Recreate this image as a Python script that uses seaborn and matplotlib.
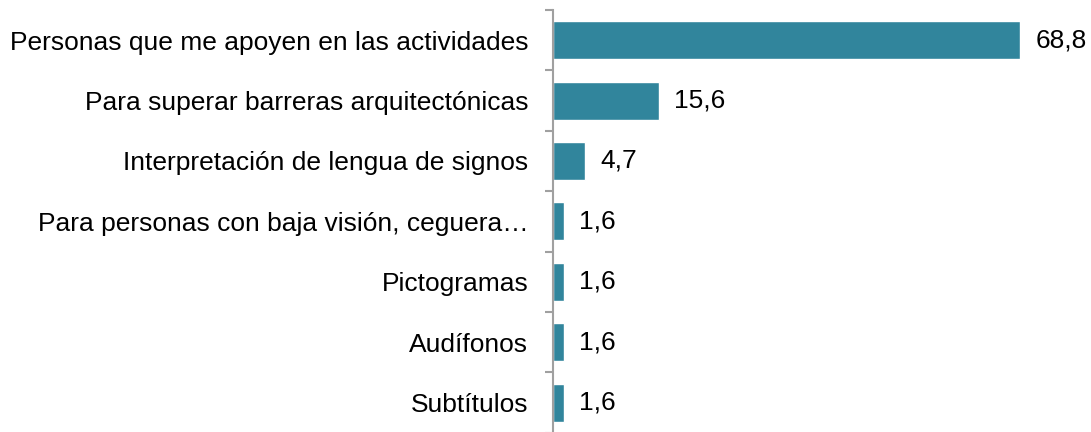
import matplotlib
matplotlib.use('Agg')
import matplotlib.pyplot as plt
import seaborn as sns
import pandas as pd
import numpy as np

categorias = [
    'Personas que me apoyen en las actividades',
    'Para superar barreras arquitectónicas',
    'Interpretación de lengua de signos',
    'Para personas con baja visión, ceguera…',
    'Pictogramas',
    'Audífonos',
    'Subtítulos',
]
valores = [68.8, 15.6, 4.7, 1.6, 1.6, 1.6, 1.6]

sns.set_style('white')
plt.rcParams['font.family'] = ['Liberation Sans', 'DejaVu Sans']

df = pd.DataFrame({'categoria': categorias, 'valor': valores})

fig = plt.figure(figsize=(10.91, 4.32), dpi=100)
ax = fig.add_axes([0.507, -0.002, 0.428, 0.979])

sns.barplot(data=df, y='categoria', x='valor', orient='h', color='#31859C',
            saturation=1, width=0.63, ax=ax)

ax.set_xlim(0, 68.8)
ax.set_ylim(len(categorias) - 0.5, -0.5)
ax.set_xlabel('')
ax.set_ylabel('')
ax.set_xticks([])

for s in ['top', 'right', 'bottom']:
    ax.spines[s].set_visible(False)
ax.spines['left'].set_color('#A0A0A0')
ax.spines['left'].set_linewidth(1.5)

ax.tick_params(axis='y', which='major', length=0, pad=18, labelsize=19, labelcolor='black')
ax.set_yticks(np.arange(-0.5, len(categorias)), minor=True)
ax.tick_params(axis='y', which='minor', left=True, length=6, width=1.5, color='#A0A0A0')

for i, v in enumerate(valores):
    ax.annotate(f'{v:.1f}'.replace('.', ','), xy=(v, i), xytext=(11, 0),
                textcoords='offset points', va='center', ha='left',
                fontsize=19, color='black', annotation_clip=False)

fig.savefig('out.png', dpi=100)
